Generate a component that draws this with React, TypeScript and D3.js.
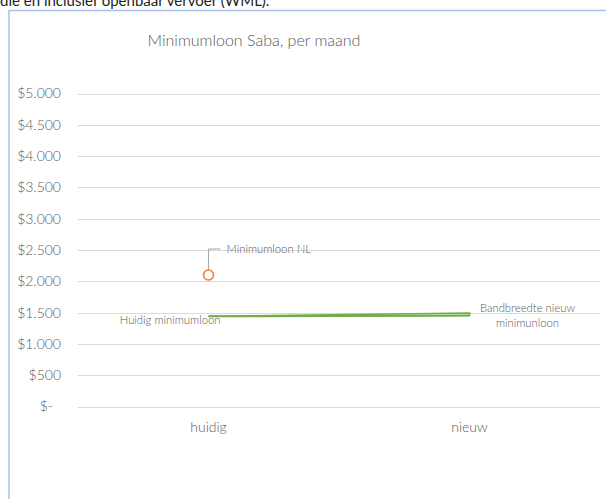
import React, { useEffect, useRef } from "react";
import * as d3 from "d3";

const categories = ["huidig", "nieuw"];
const nlValue = [2100, null];
const lowerBand = [1440, 1455];
const upperBand = [1440, 1495];
const yTicks = [0, 500, 1000, 1500, 2000, 2500, 3000, 3500, 4000, 4500, 5000];
const title = "Minimumloon Saba, per maand";
const pageText = "die en inclusief openbaar vervoer (WML).";
const labelNL = "Minimumloon NL";
const labelHuidig = "Huidig minimumloon";
const labelBand = ["Bandbreedte nieuw", "minimunloon"];

const W = 606, H = 499;
const FONT = "Lato, 'Open Sans', sans-serif";
const GREY = "#595959";

export default function App() {
  const ref = useRef<SVGSVGElement>(null);
  useEffect(() => {
    const svg = d3.select(ref.current);
    svg.selectAll("*").remove();

    // page text (cut off at top, as in the source document)
    svg.append("text").attr("x", 0).attr("y", 6).attr("font-family", FONT)
      .attr("font-size", 15).attr("fill", "#222").text(pageText);

    // chart frame
    svg.append("rect").attr("x", 9).attr("y", 10.5).attr("width", 620).attr("height", 520)
      .attr("fill", "#fff").attr("stroke", "#a9c1e8").attr("stroke-width", 1.5);

    const x = d3.scaleBand().domain(categories).range([78, 600]);
    const y = d3.scaleLinear().domain([0, 5000]).range([406.5, 93.5]);
    const cx = (c: string) => (x(c) as number) + x.bandwidth() / 2;

    svg.append("text").attr("x", 254).attr("y", 46).attr("text-anchor", "middle")
      .attr("font-family", FONT).attr("font-weight", 300).attr("font-size", 16)
      .attr("fill", GREY).text(title);

    const g = svg.append("g");
    g.selectAll("line.grid").data(yTicks).join("line").attr("class", "grid")
      .attr("x1", 78).attr("x2", 600)
      .attr("y1", d => Math.round(y(d)) + 0.5).attr("y2", d => Math.round(y(d)) + 0.5)
      .attr("stroke", "#d9d9d9").attr("stroke-width", 1);

    const fmt = (d: number) => d === 0 ? "$-" : "$" + d3.format(",")(d).replace(/,/g, ".");
    g.selectAll("text.yl").data(yTicks).join("text").attr("class", "yl")
      .attr("x", d => d === 0 ? 53 : 61).attr("y", d => y(d)).attr("dy", "0.35em")
      .attr("text-anchor", "end").attr("font-family", FONT).attr("font-weight", 300)
      .attr("font-size", 14).attr("fill", GREY).text(fmt);

    g.selectAll("text.xl").data(categories).join("text").attr("class", "xl")
      .attr("x", d => cx(d)).attr("y", 432).attr("text-anchor", "middle")
      .attr("font-family", FONT).attr("font-weight", 300).attr("font-size", 14)
      .attr("fill", GREY).text(d => d);

    // band area
    const pts = categories.map((c, i) => ({ x: cx(c), lo: lowerBand[i], hi: upperBand[i] }));
    const area = d3.area<any>().x(d => d.x).y0(d => y(d.lo)).y1(d => y(d.hi));
    g.append("path").attr("d", area(pts) as string).attr("fill", "#eef5e9")
      .attr("stroke", "#70ad47").attr("stroke-width", 1.5).attr("stroke-linejoin", "miter");
    const line = d3.line<any>().x(d => d.x).y(d => y(d.lo));
    g.append("path").attr("d", line(pts) as string).attr("fill", "none")
      .attr("stroke", "#70ad47").attr("stroke-width", 2);

    // NL point
    const nx = cx(categories[0]);
    const ny = y(nlValue[0] as number);
    g.append("path").attr("d", `M${nx},${ny - 3} L${nx},${ny - 26} L${nx + 12},${ny - 26}`)
      .attr("fill", "none").attr("stroke", "#a6a6a6").attr("stroke-width", 1);
    g.append("circle").attr("cx", nx).attr("cy", ny).attr("r", 5)
      .attr("fill", "#fff").attr("stroke", "#ed7d31").attr("stroke-width", 1.5);

    const lbl = (xx: number, yy: number, t: string, anchor = "start") =>
      g.append("text").attr("x", xx).attr("y", yy).attr("text-anchor", anchor)
        .attr("font-family", FONT).attr("font-weight", 300).attr("font-size", 11.3)
        .attr("fill", GREY).text(t);
    lbl(nx + 18, ny - 22, labelNL);
    lbl(nx + 12, y(lowerBand[0]) + 8, labelHuidig, "end");
    const bx = cx(categories[1]);
    lbl(bx + 58, y(upperBand[1]) - 1, labelBand[0], "middle");
    lbl(bx + 58, y(upperBand[1]) + 14, labelBand[1], "middle");
  }, []);
  return (
    <svg ref={ref} width={W} height={H}
      style={{ position: "absolute", left: 0, top: 0, display: "block" }} />
  );
}
